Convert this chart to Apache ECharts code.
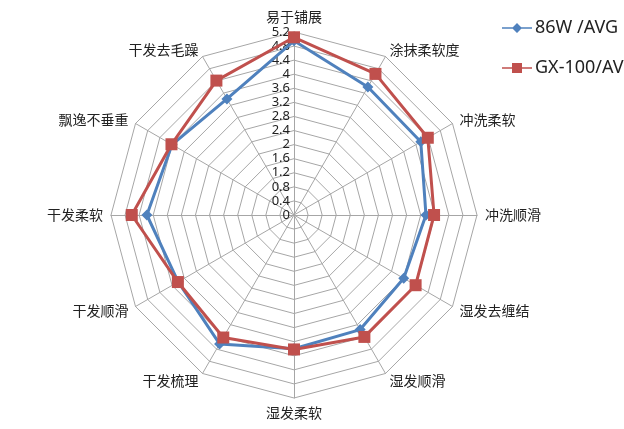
<!DOCTYPE html>
<html><head><meta charset="utf-8">
<script src="https://cdn.jsdelivr.net/npm/echarts@6/dist/echarts.min.js"></script>
<style>html,body{margin:0;padding:0;background:#fff}#c{width:624px;height:429px}</style>
</head><body><div id="c"></div>
<script>
// clockwise order starting from top
const indicators = ['易于铺展','涂抹柔软度','冲洗柔软','冲洗顺滑','湿发去缠结','湿发顺滑','湿发柔软','干发梳理','干发顺滑','干发柔软','飘逸不垂重','干发去毛躁'];
const s86W = [4.95, 4.2, 4.16, 3.75, 3.6, 3.76, 3.8, 4.23, 3.8, 4.18, 4.0, 3.81];
const sGX100 = [5.05, 4.63, 4.39, 3.98, 3.99, 4.0, 3.82, 4.02, 3.81, 4.61, 4.02, 4.41];
const seriesNames = ['86W /AVG', 'GX-100/AVG'];
const axisMax = 5.2, axisStep = 0.4;

// ECharts radar runs counter-clockwise: reorder to draw clockwise
const cw = arr => [arr[0]].concat(arr.slice(1).reverse());

const chart = echarts.init(document.getElementById('c'));
const center = [294, 215], radius = 183;
const diamondIcon = 'path://M0,4.2L30,4.2L30,5.8L0,5.8Z M15,0L20,5L15,10L10,5Z';
const rectIcon = 'path://M0,4.2L30,4.2L30,5.8L0,5.8Z M10,0L20,0L20,10L10,10Z';
chart.setOption({
  animation: false,
  color: ['#4F81BD', '#C0504D'],
  legend: {
    orient: 'vertical', left: 497, top: 14, itemGap: 22,
    itemWidth: 30, itemHeight: 10,
    textStyle: {fontFamily: 'Noto Sans', fontSize: 18, color: '#222', padding: [0, 0, 0, -2]},
    data: [{name: seriesNames[0], icon: diamondIcon}, {name: seriesNames[1], icon: rectIcon}]
  },
  radar: {
    center: center, radius: radius, startAngle: 90, shape: 'polygon',
    splitNumber: Math.round(axisMax / axisStep),
    indicator: cw(indicators).map(n => ({name: n, min: 0, max: axisMax})),
    axisName: {color: '#222', fontSize: 14, fontFamily: 'Noto Sans CJK SC'},
    nameGap: 8,
    splitArea: {show: false},
    splitLine: {lineStyle: {color: '#A6A6A6', width: 1}},
    axisLine: {lineStyle: {color: '#A6A6A6', width: 1}}
  },
  polar: {center: center, radius: radius},
  angleAxis: {show: false, startAngle: 90, min: 0, max: 360},
  radiusAxis: {
    min: 0, max: axisMax, interval: axisStep,
    axisLine: {show: false}, axisTick: {show: false}, splitLine: {show: false},
    axisLabel: {fontSize: 13, color: '#222', fontFamily: 'Noto Sans', margin: 4,
      formatter: v => String(Math.round(v * 10) / 10)}
  },
  series: [{
    type: 'radar',
    data: [
      {name: seriesNames[0], value: cw(s86W), symbol: 'diamond', symbolSize: 11,
       lineStyle: {width: 3, color: '#4F81BD'}, itemStyle: {color: '#4F81BD'}},
      {name: seriesNames[1], value: cw(sGX100), symbol: 'rect', symbolSize: 12,
       lineStyle: {width: 3, color: '#C0504D'}, itemStyle: {color: '#C0504D'}}
    ]
  }]
});
</script></body></html>
